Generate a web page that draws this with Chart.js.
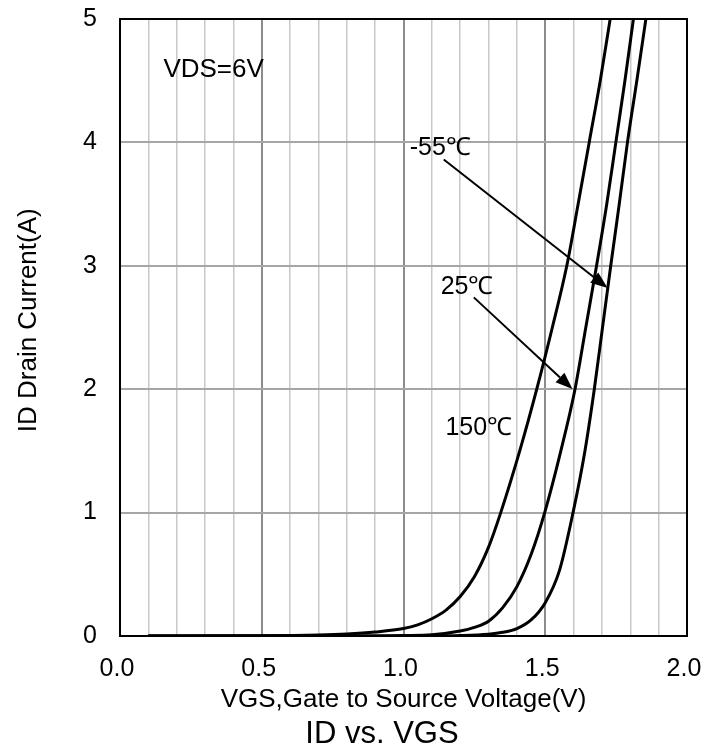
<!DOCTYPE html>
<html>
<head>
<meta charset="utf-8">
<script src="https://cdn.jsdelivr.net/npm/chart.js@4/dist/chart.umd.min.js"></script>
<style>
  html, body { margin: 0; padding: 0; background: #fff; }
  #wrap { width: 718px; height: 752px; }
</style>
</head>
<body>
<div id="wrap"><canvas id="chart" width="718" height="752"></canvas></div>
<script>
// ID vs. VGS transfer curves
const vgs150 = [0.1, 0.5, 0.7, 0.8, 0.9, 1.0, 1.05, 1.1, 1.15, 1.2, 1.25, 1.3, 1.343, 1.41, 1.47, 1.525, 1.576, 1.616, 1.655, 1.694, 1.729];
const id150  = [0,   0.002, 0.008, 0.016, 0.032, 0.06, 0.09, 0.14, 0.21, 0.32, 0.48, 0.72, 1.0, 1.5, 2.0, 2.5, 3.0, 3.5, 4.0, 4.5, 5.0];

const vgs25 = [0.1, 0.9, 1.0, 1.1, 1.2, 1.25, 1.3, 1.35, 1.4, 1.45, 1.498, 1.555, 1.605, 1.643, 1.681, 1.717, 1.749, 1.781, 1.811];
const id25  = [0,   0.001, 0.004, 0.01, 0.04, 0.07, 0.12, 0.23, 0.40, 0.66, 1.0, 1.5, 2.0, 2.5, 3.0, 3.5, 4.0, 4.5, 5.0];

const vgsM55 = [0.1, 1.1, 1.2, 1.3, 1.35, 1.4, 1.45, 1.5, 1.55, 1.598, 1.64, 1.673, 1.702, 1.731, 1.761, 1.79, 1.823, 1.855];
const idM55  = [0,   0.001, 0.004, 0.015, 0.03, 0.06, 0.13, 0.27, 0.53, 1.0, 1.5, 2.0, 2.5, 3.0, 3.5, 4.0, 4.5, 5.0];

const xMin = 0, xMax = 2, xStep = 0.1;
const yMin = 0, yMax = 5, yStep = 1;

const FONT = '"Liberation Sans", Arial, sans-serif';

const toPoints = (xs, ys) => xs.map((x, i) => ({ x: x, y: ys[i] }));
const isMajor = v => Math.abs(v * 2 - Math.round(v * 2)) < 1e-6;

const curve = (label, xs, ys) => ({
    label: label,
    data: toPoints(xs, ys),
    showLine: true,
    borderColor: '#000',
    borderWidth: 3,
    pointRadius: 0,
    cubicInterpolationMode: 'monotone',
    fill: false
});

// frame, labels and arrows
const decorPlugin = {
    id: 'decor',
    afterDatasetsDraw(chart) {
        const { ctx, chartArea: a, scales: { x, y } } = chart;
        ctx.save();
        ctx.strokeStyle = '#000';
        ctx.lineWidth = 2;
        ctx.strokeRect(a.left, a.top, a.right - a.left, a.bottom - a.top);

        ctx.fillStyle = '#000';
        ctx.textBaseline = 'middle';
        ctx.textAlign = 'left';
        ctx.font = '26px ' + FONT;
        ctx.fillText('VDS=6V', x.getPixelForValue(0.153), y.getPixelForValue(4.59));
        ctx.font = '25px ' + FONT;
        ctx.fillText('-55℃', x.getPixelForValue(1.022), y.getPixelForValue(3.95));
        ctx.fillText('25℃', x.getPixelForValue(1.131), y.getPixelForValue(2.827));
        ctx.fillText('150℃', x.getPixelForValue(1.148), y.getPixelForValue(1.684));

        const arrow = (x0, y0, x1, y1) => {
            const px0 = x.getPixelForValue(x0), py0 = y.getPixelForValue(y0);
            const px1 = x.getPixelForValue(x1), py1 = y.getPixelForValue(y1);
            const ang = Math.atan2(py1 - py0, px1 - px0);
            const len = 17, hw = 6.5;
            const bx = px1 - len * Math.cos(ang), by = py1 - len * Math.sin(ang);
            ctx.lineWidth = 2;
            ctx.beginPath();
            ctx.moveTo(px0, py0);
            ctx.lineTo(bx, by);
            ctx.stroke();
            ctx.beginPath();
            ctx.moveTo(px1, py1);
            ctx.lineTo(bx + hw * Math.sin(ang), by - hw * Math.cos(ang));
            ctx.lineTo(bx - hw * Math.sin(ang), by + hw * Math.cos(ang));
            ctx.closePath();
            ctx.fill();
        };
        arrow(1.142, 3.861, 1.720, 2.820);
        arrow(1.248, 2.744, 1.596, 2.001);

        ctx.font = '31px ' + FONT;
        ctx.textAlign = 'center';
        ctx.fillText('ID vs. VGS', 382, 734);
        ctx.restore();
    }
};

new Chart(document.getElementById('chart'), {
    type: 'scatter',
    data: {
        datasets: [
            curve('150℃', vgs150, id150),
            curve('25℃', vgs25, id25),
            curve('-55℃', vgsM55, idM55)
        ]
    },
    options: {
        responsive: false,
        animation: false,
        layout: { padding: { left: 0, right: 31, top: 19, bottom: 36 } },
        plugins: {
            legend: { display: false },
            title: { display: false },
            tooltip: { enabled: false }
        },
        scales: {
            x: {
                type: 'linear',
                min: xMin,
                max: xMax,
                afterFit: s => { s.height = 80; s.paddingLeft = 0; s.paddingRight = 0; },
                border: { display: false },
                grid: {
                    drawTicks: false,
                    color: c => isMajor(c.tick.value) ? '#8c8c8c' : '#c8c8c8',
                    lineWidth: c => isMajor(c.tick.value) ? 2 : 1.5
                },
                ticks: {
                    stepSize: xStep,
                    autoSkip: false,
                    maxRotation: 0,
                    padding: 18,
                    labelOffset: -3,
                    color: '#000',
                    font: { family: FONT, size: 25 },
                    callback: v => isMajor(v) ? v.toFixed(1) : ''
                },
                title: {
                    display: true,
                    text: 'VGS,Gate to Source Voltage(V)',
                    color: '#000',
                    font: { family: FONT, size: 26 },
                    padding: { top: 0, bottom: 1 }
                }
            },
            y: {
                type: 'linear',
                min: yMin,
                max: yMax,
                afterFit: s => { s.width = 120; s.paddingTop = 0; s.paddingBottom = 0; },
                border: { display: false },
                grid: { drawTicks: false, color: '#a6a6a6', lineWidth: 2 },
                ticks: {
                    stepSize: yStep,
                    padding: 23,
                    color: '#000',
                    font: { family: FONT, size: 25 }
                },
                title: {
                    display: true,
                    text: '  ID Drain Current(A)',
                    color: '#000',
                    font: { family: FONT, size: 26 },
                    padding: { top: 13, bottom: 0 }
                }
            }
        }
    },
    plugins: [decorPlugin]
});
</script>
</body>
</html>
